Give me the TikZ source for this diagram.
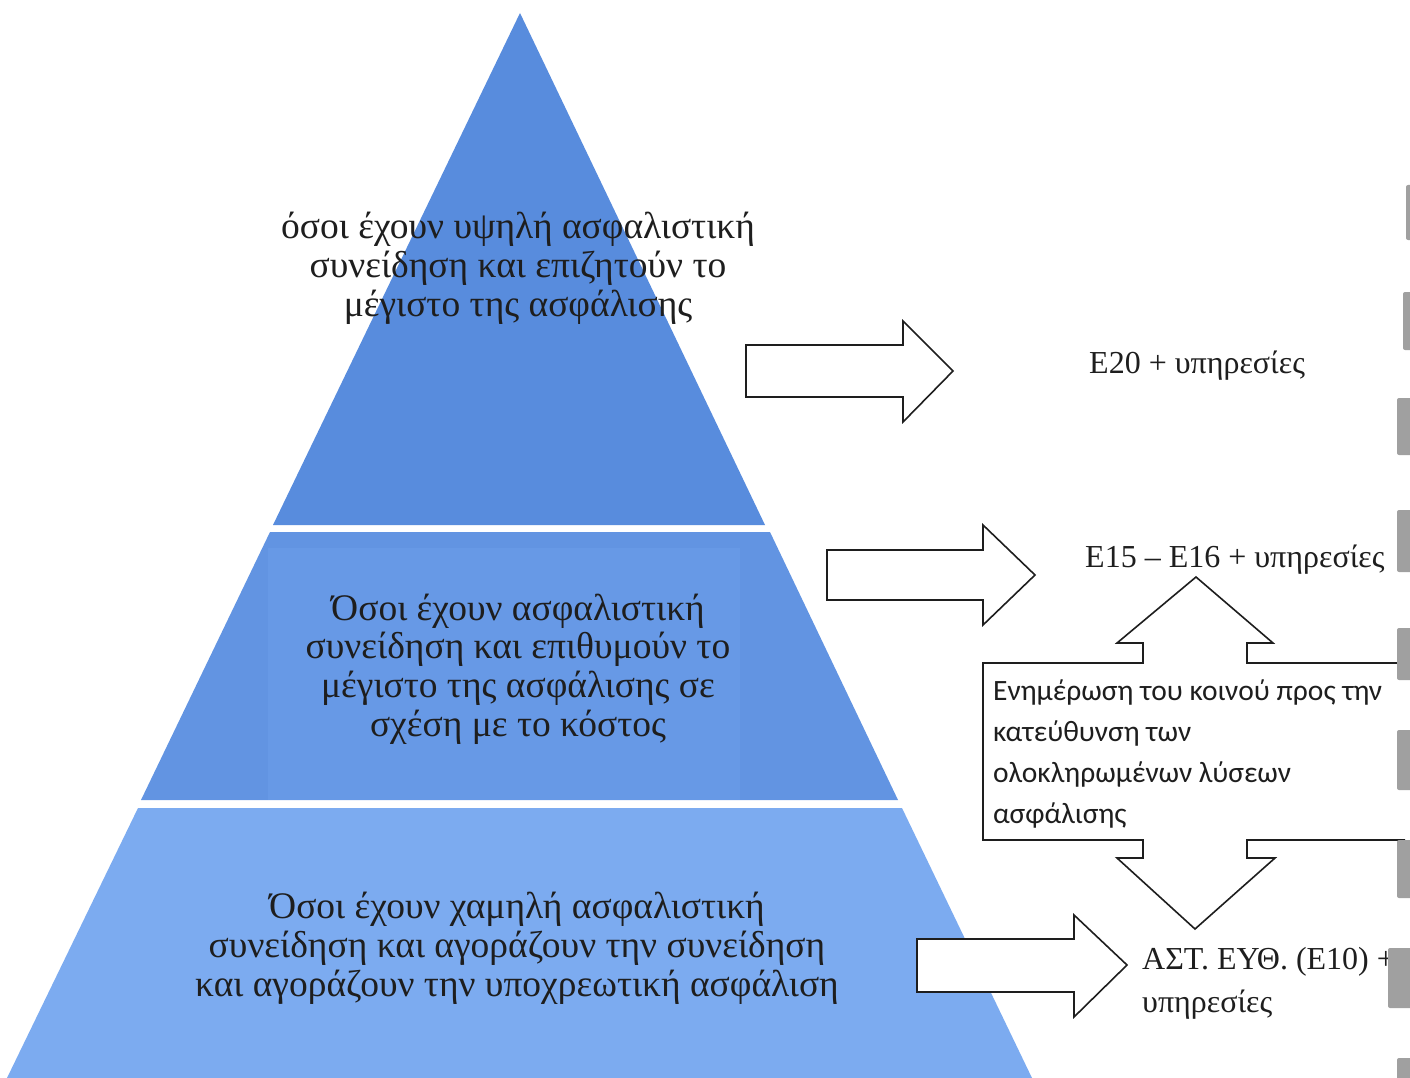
\documentclass[tikz,border=0pt]{standalone}
\usepackage{fontspec}
\setmainfont{Liberation Serif}
\newfontfamily\boxfont{Carlito}
\definecolor{tierA}{RGB}{88,140,221}
\definecolor{tierB}{RGB}{98,148,226}
\definecolor{tierBl}{RGB}{103,153,230}
\definecolor{tierC}{RGB}{124,171,240}
\definecolor{inkc}{RGB}{30,30,30}
\definecolor{barc}{RGB}{160,160,160}
\begin{document}
\begin{tikzpicture}[x=1pt,y=-1pt,
  blockarrow/.style={draw=inkc, line width=1.6pt, fill=white, line join=miter},
  ptext/.style={font=\fontsize{37.5}{38.8}\selectfont, align=center, text=inkc, inner sep=0pt},
  lbl/.style={font=\fontsize{32}{43}\selectfont, align=left, text=inkc, inner sep=0pt},
  boxtext/.style={font=\boxfont\fontsize{29.5}{41}\selectfont, align=left, text=inkc, inner sep=0pt},
  sidebar/.style={fill=barc, draw=none, rounded corners=2pt}]
\useasboundingbox (0,0) rectangle (1410,1078);
\fill[white] (0,0) rectangle (1410,1078);
% pyramid tiers
\fill[tierA] (520,13) -- (765,525) -- (273,525) -- cycle;
\fill[tierB] (270,532) -- (770,532) -- (898,800) -- (141,800) -- cycle;
\begin{scope}
  \clip (270,532) -- (770,532) -- (898,800) -- (141,800) -- cycle;
  \fill[tierBl] (268,548) rectangle (740,800);
\end{scope}
\fill[tierC] (138,808) -- (902,808) -- (1032,1078) -- (7,1078) -- cycle;
% tier texts
\node[ptext] (t1) at (518,268) {όσοι έχουν υψηλή ασφαλιστική\\συνείδηση και επιζητούν το\\μέγιστο της ασφάλισης};
\node[ptext] (t2) at (518,669) {Όσοι έχουν ασφαλιστική\\συνείδηση και επιθυμούν το\\μέγιστο της ασφάλισης σε\\σχέση με το κόστος};
\node[ptext] (t3) at (517,948) {Όσοι έχουν χαμηλή ασφαλιστική\\συνείδηση και αγοράζουν την συνείδηση\\και αγοράζουν την υποχρεωτική ασφάλιση};
% block arrows
\draw[blockarrow] (746,345) -- (903,345) -- (903,321) -- (953,371) -- (903,422) -- (903,397) -- (746,397) -- cycle;
\draw[blockarrow] (827,550) -- (983,550) -- (983,525) -- (1035,575) -- (983,625) -- (983,600) -- (827,600) -- cycle;
\draw[blockarrow] (917,939) -- (1074,939) -- (1074,915) -- (1127,965) -- (1074,1017) -- (1074,992) -- (917,992) -- cycle;
% double arrow callout box
\filldraw[blockarrow] (1405,663) -- (1247,663) -- (1247,643) -- (1273,643) -- (1196,577) -- (1117,643) -- (1143,643) -- (1143,663)
  -- (983,663) -- (983,840) -- (1143,840) -- (1143,858) -- (1117,858) -- (1195,929) -- (1275,858) -- (1247,858) -- (1247,840) -- (1405,840);
% labels
\node[lbl, anchor=west] (l1) at (1089,366) {Ε20 + υπηρεσίες};
\node[lbl, anchor=west] (l2) at (1085,560) {Ε15 – Ε16 + υπηρεσίες};
\node[lbl, anchor=north west] (l3) at (1142,947) {ΑΣΤ. ΕΥΘ. (Ε10) +\\υπηρεσίες};
\node[boxtext, anchor=north west] (bx) at (993,680) {Ενημέρωση του κοινού προς την\\κατεύθυνση των\\ολοκληρωμένων λύσεων\\ασφάλισης};
% right-edge grey bars
\fill[sidebar] (1406,185) rectangle (1414,240);
\fill[sidebar] (1403,292) rectangle (1414,350);
\fill[sidebar] (1397,398) rectangle (1414,455);
\fill[sidebar] (1397,510) rectangle (1414,572);
\fill[sidebar] (1397,628) rectangle (1414,680);
\fill[sidebar] (1397,730) rectangle (1414,790);
\fill[sidebar] (1397,840) rectangle (1414,898);
\fill[sidebar] (1388,948) rectangle (1414,1008);
\fill[sidebar] (1397,1058) rectangle (1414,1084);
\end{tikzpicture}
\end{document}
